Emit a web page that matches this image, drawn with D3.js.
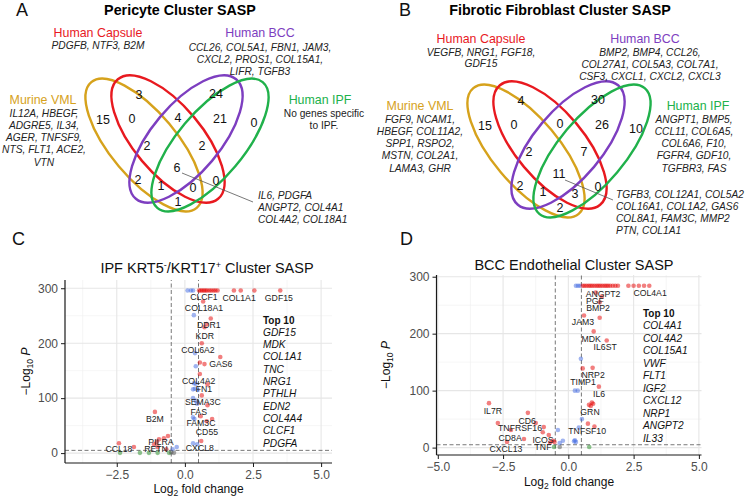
<!DOCTYPE html>
<html>
<head>
<meta charset="utf-8">
<script src="https://cdn.jsdelivr.net/npm/d3@7"></script>
<style>
  body { margin: 0; background: #fff; }
  text { font-family: "Liberation Sans", Arial, sans-serif; }
</style>
</head>
<body>
<svg id="fig" width="746" height="497"></svg>
<script>
// ---- Venn data: region order is fixed, see vennRegions ----
const vennRegions = ["VML", "Capsule", "BCC", "IPF", "VML+Capsule", "Capsule+BCC", "BCC+IPF",
  "VML+Capsule+BCC", "Capsule+BCC+IPF", "all", "VML+BCC", "VML+BCC+IPF", "VML+Capsule+IPF",
  "Capsule+IPF", "VML+IPF"];
const pericyteCounts = [15, 3, 24, 0, 0, 4, 21, 2, 2, 6, 2, 1, 0, 0, 1];
const fibroblastCounts = [15, 4, 30, 10, 0, 0, 26, 2, 7, 11, 2, 1, 3, 0, 2];
const setNames = ["Murine VML", "Human Capsule", "Human BCC", "Human IPF"];
const setColors = ["#d6a21c", "#e8191f", "#7d3ec0", "#20b14b"];

const pericyteVml = ["IL12A, HBEGF,", "ADGRE5, IL34,", "AGER, TNFSF9,", "NTS, FLT1, ACE2,", "VTN"];
const pericyteCapsule = ["PDGFB, NTF3, B2M"];
const pericyteBcc = ["CCL26, COL5A1, FBN1, JAM3,", "CXCL2, PROS1, COL15A1,", "LIFR, TGFB3"];
const pericyteIpf = ["No genes specific", "to IPF."];
const pericyteShared = ["IL6, PDGFA", "ANGPT2, COL4A1", "COL4A2, COL18A1"];

const fibroVml = ["FGF9, NCAM1,", "HBEGF, COL11A2,", "SPP1, RSPO2,", "MSTN, COL2A1,", "LAMA3, GHR"];
const fibroCapsule = ["VEGFB, NRG1, FGF18,", "GDF15"];
const fibroBcc = ["BMP2, BMP4, CCL26,", "COL27A1, COL5A3, COL7A1,", "CSF3, CXCL1, CXCL2, CXCL3"];
const fibroIpf = ["ANGPT1, BMP5,", "CCL11, COL6A5,", "COL6A6, F10,", "FGFR4, GDF10,", "TGFBR3, FAS"];
const fibroShared = ["TGFB3, COL12A1, COL5A2", "COL16A1, COL1A2, GAS6", "COL8A1, FAM3C, MMP2", "PTN, COL1A1"];

// ---- Volcano data: [log2FC, -log10 P, group]  r: P & FC, b: P only, g: FC only, n: NS ----
const ipfPoints = [
  [0.10, 296, "b"], [0.22, 296, "b"], [0.30, 296, "b"],
  [0.52, 296, "r"], [0.58, 296, "r"], [0.64, 296, "r"], [0.70, 296, "r"], [0.76, 296, "r"], [0.82, 296, "r"],
  [0.90, 296, "r"], [0.97, 296, "r"], [1.05, 296, "r"], [1.12, 296, "r"], [1.20, 296, "r"],
  [1.80, 296, "r"], [2.05, 296, "r"], [2.55, 296, "r"], [3.50, 296, "r"],
  [0.67, 276, "r"], [0.33, 251, "b"], [0.95, 245, "r"], [0.72, 229, "r"], [0.80, 235, "r"], [0.62, 200, "r"],
  [0.37, 182, "b"], [1.30, 175, "r"], [0.55, 165, "r"], [0.72, 162, "r"], [0.40, 158, "b"], [0.55, 144, "r"],
  [0.33, 127, "b"], [0.40, 126, "b"], [0.83, 125, "r"], [0.30, 116, "b"], [0.37, 117, "b"], [0.47, 115, "b"],
  [0.62, 105, "r"], [0.30, 100, "b"], [0.40, 95, "b"], [0.45, 90, "b"], [0.83, 87, "r"],
  [0.58, 67, "r"], [0.30, 65, "b"], [0.35, 62, "b"], [1.00, 62, "r"], [0.80, 58, "r"],
  [0.60, 22, "r"], [0.30, 18, "b"], [0.45, 16, "b"], [-0.30, 11, "b"], [-0.45, 7, "b"],
  [-1.10, 75, "r"], [-0.62, 31, "r"], [-0.77, 27, "r"], [-0.95, 25, "r"], [-1.03, 20, "r"], [-1.13, 16, "r"],
  [-1.00, 11, "r"], [-0.68, 7, "r"], [-2.42, 18, "r"], [-1.87, 11, "r"],
  [-2.38, 0.5, "g"], [-1.65, 0.5, "g"], [-1.32, 0.5, "g"], [-1.00, 0.5, "g"], [-0.58, 0.5, "g"],
  [-0.50, 1, "n"], [-0.40, 0.5, "n"]
];
const ipfLabels = [
  ["CLCF1", 0.70, 284], ["COL1A1", 1.99, 282], ["GDF15", 3.45, 282], ["COL18A1", 0.70, 265],
  ["DDR1", 0.88, 233], ["KDR", 0.73, 213], ["COL6A2", 0.48, 187], ["GAS6", 1.32, 162],
  ["COL4A2", 0.51, 131], ["FN1", 0.70, 116], ["SEMA3C", 0.66, 93], ["FAS", 0.51, 75],
  ["FAM3C", 0.59, 55], ["CD55", 0.81, 38], ["CXCL8", 0.55, 9], ["B2M", -1.10, 62],
  ["PILRA", -0.88, 20], ["RETN", -1.06, 7], ["CCL18", -2.42, 7]
];
const ipfTop10 = ["GDF15", "MDK", "COL1A1", "TNC", "NRG1", "PTHLH", "EDN2", "COL4A4", "CLCF1", "PDGFA"];

const bccPoints = [
  [0.29, 284, "b"], [0.37, 284, "b"], [0.45, 284, "b"],
  [0.55, 284, "r"], [0.62, 284, "r"], [0.70, 284, "r"], [0.78, 284, "r"], [0.85, 284, "r"], [0.92, 284, "r"],
  [1.00, 284, "r"], [1.08, 284, "r"], [1.15, 284, "r"], [1.22, 284, "r"], [1.30, 284, "r"], [1.38, 284, "r"],
  [1.45, 284, "r"], [1.52, 284, "r"], [1.60, 284, "r"], [1.70, 284, "r"], [1.80, 284, "r"], [1.90, 284, "r"],
  [2.30, 284, "r"], [2.50, 284, "r"], [2.70, 284, "r"], [2.90, 284, "r"], [3.10, 284, "r"],
  [1.05, 272, "r"], [1.28, 265, "r"], [1.20, 255, "r"], [0.60, 232, "r"], [1.20, 228, "r"], [0.97, 204, "r"],
  [1.47, 188, "r"], [0.48, 156, "b"], [0.55, 139, "r"], [0.93, 140, "r"], [1.17, 107, "r"],
  [0.25, 100, "b"], [0.36, 100, "b"], [0.90, 79, "r"], [0.79, 75, "r"], [0.86, 73, "r"], [0.95, 77, "r"],
  [0.52, 50, "b"], [0.75, 42, "r"], [1.00, 37, "r"], [0.40, 35, "b"],
  [0.25, 13, "b"], [0.29, 10, "b"], [0.22, 11, "b"], [0.80, 1, "g"],
  [-3.04, 78, "r"], [-1.55, 61, "r"], [-2.70, 43, "r"], [-2.20, 31, "r"], [-1.25, 43, "r"], [-0.94, 36, "r"],
  [-0.98, 27, "r"], [-0.75, 22, "r"], [-1.70, 15, "r"], [-2.35, 10, "r"], [-0.60, 12, "r"], [-0.53, 10, "r"],
  [-0.70, 9, "r"], [-0.40, 31, "b"], [-0.21, 12, "b"], [-0.33, 8, "b"], [-0.55, 1, "g"], [-0.33, 1, "n"]
];
const bccLabels = [
  ["COL4A1", 3.13, 272], ["ANGPT2", 1.33, 270], ["PGF", 1.02, 257], ["BMP2", 1.14, 245],
  ["JAM3", 0.56, 220], ["MDK", 0.87, 191], ["IL6ST", 1.41, 176], ["NRP2", 0.95, 128],
  ["TIMP1", 0.56, 116], ["IL6", 1.18, 95], ["GRN", 0.83, 63], ["TNFSF10", 0.72, 29],
  ["IL7R", -2.89, 64], ["CD6", -1.58, 47], ["TNFRSF16", -1.85, 35], ["CD8A", -2.23, 17],
  ["ICOS", -0.97, 14], ["TNF", -0.97, 1], ["CXCL13", -2.39, -2]
];
const bccTop10 = ["COL4A1", "COL4A2", "COL15A1", "VWF", "FLT1", "IGF2", "CXCL12", "NRP1", "ANGPT2", "IL33"];

const ipfXTicks = [-2.5, 0, 2.5, 5];
const bccXTicks = [-5, -2.5, 0, 2.5, 5];
const yTicks = [0, 100, 200, 300];
const fcCut = 0.5, pCut = 5;

const svg = d3.select("#fig");
const groupColor = { r: "#e50000", b: "#4169e1", g: "#228b22", n: "#4d4d4d" };

function multiLine(g, lines, x, y, step, anchor, italic, color, size) {
  lines.forEach((t, i) => {
    g.append("text")
      .attr("x", x).attr("y", y + i * step)
      .attr("dy", "0.35em")
      .attr("text-anchor", anchor)
      .attr("font-size", size)
      .attr("font-style", italic ? "italic" : "normal")
      .attr("fill", color)
      .text(t);
  });
}

// region label offsets from the venn centre (same 4-ellipse layout in both panels)
const regionPos = [[-74, -20], [-38, -45], [39, -46], [77, -17], [-45, -21], [1, -22], [43, -21],
  [-30, 6], [25, 6], [0, 28], [-39, 40], [-16, 46], [16, 48], [39, 41], [1, 62]];

function drawVenn(cx, cy, counts, leader) {
  const g = svg.append("g");
  const ell = [
    { dx: -33, dy: 5, a: 82, b: 33, rot: 50 },
    { dx: -9, dy: -1, a: 78, b: 34, rot: 50 },
    { dx: 9, dy: -1, a: 78, b: 34, rot: -50 },
    { dx: 33, dy: 5, a: 82, b: 33, rot: -50 }
  ];
  ell.forEach((e, i) => {
    g.append("ellipse")
      .attr("transform", `translate(${cx + e.dx},${cy + e.dy}) rotate(${e.rot})`)
      .attr("rx", e.a).attr("ry", e.b)
      .attr("fill", "none")
      .attr("stroke", setColors[i])
      .attr("stroke-width", 2.4);
  });
  counts.forEach((c, i) => {
    g.append("text")
      .attr("x", cx + regionPos[i][0]).attr("y", cy + regionPos[i][1])
      .attr("dy", "0.35em").attr("text-anchor", "middle")
      .attr("font-size", 12.5).attr("fill", "#111")
      .text(c);
  });
  g.append("line")
    .attr("x1", cx + leader[0]).attr("y1", cy + leader[1])
    .attr("x2", cx + leader[2]).attr("y2", cy + leader[3])
    .attr("stroke", "#555").attr("stroke-width", 0.8);
}

function panelLetter(x, y, t) {
  svg.append("text").attr("x", x).attr("y", y).attr("font-size", 18).attr("fill", "#111").text(t);
}

// ---- Panel A ----
panelLetter(16, 16, "A");
svg.append("text").attr("x", 180).attr("y", 15).attr("text-anchor", "middle")
  .attr("font-size", 14.3).attr("font-weight", "bold").text("Pericyte Cluster SASP");
drawVenn(177, 140, pericyteCounts, [5, 33, 76, 62]);
{
  const g = svg.append("g");
  multiLine(g, [setNames[1]], 98, 33, 12, "middle", false, setColors[1], 12.4);
  multiLine(g, pericyteCapsule, 98, 45, 12, "middle", true, "#222", 10.2);
  multiLine(g, [setNames[2]], 260, 33, 12, "middle", false, setColors[2], 12.4);
  multiLine(g, pericyteBcc, 260, 47, 12, "middle", true, "#222", 10.2);
  multiLine(g, [setNames[0]], 43, 100, 12, "middle", false, setColors[0], 12.4);
  multiLine(g, pericyteVml, 44, 113, 12.3, "middle", true, "#222", 10.2);
  multiLine(g, [setNames[3]], 320, 100, 12, "middle", false, setColors[3], 12.4);
  multiLine(g, pericyteIpf, 324, 113, 12.5, "middle", false, "#222", 10.2);
  multiLine(g, pericyteShared, 258, 195, 12.3, "start", true, "#222", 10.2);
}

// ---- Panel B ----
panelLetter(399, 16, "B");
svg.append("text").attr("x", 560).attr("y", 15).attr("text-anchor", "middle")
  .attr("font-size", 14.3).attr("font-weight", "bold").text("Fibrotic Fibroblast Cluster SASP");
drawVenn(559, 146, fibroblastCounts, [6, 34, 54, 54]);
{
  const g = svg.append("g");
  multiLine(g, [setNames[1]], 481, 39, 12, "middle", false, setColors[1], 12.4);
  multiLine(g, fibroCapsule, 481, 52, 11.8, "middle", true, "#222", 10.2);
  multiLine(g, [setNames[2]], 645, 39, 12, "middle", false, setColors[2], 12.4);
  multiLine(g, fibroBcc, 650, 52, 12, "middle", true, "#222", 10.2);
  multiLine(g, [setNames[0]], 420, 106, 12, "middle", false, setColors[0], 12.4);
  multiLine(g, fibroVml, 420, 119, 12.3, "middle", true, "#222", 10.2);
  multiLine(g, [setNames[3]], 698, 106, 12, "middle", false, setColors[3], 12.4);
  multiLine(g, fibroIpf, 694, 119, 12.3, "middle", true, "#222", 10.2);
  multiLine(g, fibroShared, 616, 194, 12.1, "start", true, "#222", 10.2);
}

// ---- Volcano plots ----
function drawVolcano(o) {
  const g = svg.append("g");
  const x = d3.scaleLinear().domain(o.xDomain).range(o.xRange);
  const y = d3.scaleLinear().domain(o.yDomain).range(o.yRange);
  const [x0, x1] = o.xRange, [y0, y1] = o.yRange; // y0 bottom, y1 top

  // grid: minor then major
  const xMinor = d3.range(o.xTicks[0] - 1.25, o.xDomain[1], 2.5).filter(v => v > o.xDomain[0]);
  const yMinor = [50, 150, 250];
  g.selectAll(".xmin").data(xMinor).enter().append("line")
    .attr("x1", d => x(d)).attr("x2", d => x(d)).attr("y1", y0).attr("y2", y1)
    .attr("stroke", "#f0f0f0").attr("stroke-width", 0.6);
  g.selectAll(".ymin").data(yMinor).enter().append("line")
    .attr("y1", d => y(d)).attr("y2", d => y(d)).attr("x1", x0).attr("x2", x1)
    .attr("stroke", "#f0f0f0").attr("stroke-width", 0.6);
  g.selectAll(".xmaj").data(o.xTicks).enter().append("line")
    .attr("x1", d => x(d)).attr("x2", d => x(d)).attr("y1", y0).attr("y2", y1)
    .attr("stroke", "#e6e6e6").attr("stroke-width", 1.1);
  g.selectAll(".ymaj").data(yTicks).enter().append("line")
    .attr("y1", d => y(d)).attr("y2", d => y(d)).attr("x1", x0).attr("x2", x1)
    .attr("stroke", "#e6e6e6").attr("stroke-width", 1.1);

  // cutoff lines
  [-fcCut, fcCut].forEach(v => {
    g.append("line").attr("x1", x(v)).attr("x2", x(v)).attr("y1", y0).attr("y2", y1)
      .attr("stroke", "#555").attr("stroke-width", 0.8).attr("stroke-dasharray", "4,2.5");
  });
  g.append("line").attr("x1", x0).attr("x2", x1).attr("y1", y(pCut)).attr("y2", y(pCut))
    .attr("stroke", "#555").attr("stroke-width", 0.8).attr("stroke-dasharray", "4,2.5");

  // points
  g.selectAll(".pt").data(o.points).enter().append("circle")
    .attr("cx", d => x(d[0])).attr("cy", d => y(d[1]))
    .attr("r", 2.3)
    .attr("fill", d => groupColor[d[2]])
    .attr("fill-opacity", 0.5);

  // gene labels
  g.selectAll(".lab").data(o.labels).enter().append("text")
    .attr("x", d => x(d[1])).attr("y", d => y(d[2]))
    .attr("dy", "0.35em").attr("text-anchor", "middle")
    .attr("font-size", 8.7).attr("fill", "#222")
    .text(d => d[0]);

  // axes
  const fmt = d3.format(".1f");
  const xa = g.append("g").attr("transform", `translate(0,${y0})`)
    .call(d3.axisBottom(x).tickValues(o.xTicks).tickFormat(fmt).tickSizeOuter(0).tickSize(4).tickPadding(3));
  const ya = g.append("g").attr("transform", `translate(${x0},0)`)
    .call(d3.axisLeft(y).tickValues(yTicks).tickFormat(d3.format("d")).tickSizeOuter(0).tickSize(4).tickPadding(3));
  [xa, ya].forEach(a => {
    a.select(".domain").attr("stroke", "#1a1a1a").attr("stroke-width", 1.2);
    a.selectAll(".tick line").attr("stroke", "#1a1a1a").attr("stroke-width", 1);
    a.selectAll(".tick text").attr("fill", "#4d4d4d").attr("font-size", 12)
      .attr("font-family", "Liberation Sans, Arial, sans-serif");
  });
  // x extends full panel width
  xa.select(".domain").attr("d", `M${x0},0H${x1}`);
  ya.select(".domain").attr("d", `M0,${y0}V${y1}`);

  // axis titles
  const xt = g.append("text").attr("x", (x0 + x1) / 2).attr("y", o.xTitleY)
    .attr("text-anchor", "middle").attr("font-size", 12).attr("fill", "#111");
  xt.append("tspan").text("Log");
  xt.append("tspan").attr("font-size", 8.5).attr("dy", 3).text("2");
  xt.append("tspan").attr("dy", -3).text(" fold change");

  const yt = g.append("text")
    .attr("transform", `translate(${o.yTitleX},${(y0 + y1) / 2}) rotate(-90)`)
    .attr("text-anchor", "middle").attr("font-size", 12).attr("fill", "#111");
  yt.append("tspan").text("\u2212Log");
  yt.append("tspan").attr("font-size", 8.5).attr("dy", 3).text("10");
  yt.append("tspan").attr("dy", -3).attr("font-style", "italic").text(" P");

  // title
  o.title(g.append("text").attr("x", o.titleX).attr("y", o.titleY)
    .attr("text-anchor", "middle").attr("font-size", 14.5).attr("fill", "#111"));

  // top 10 list
  g.append("text").attr("x", o.topX).attr("y", o.topY).attr("dy", "0.35em")
    .attr("font-size", 10).attr("font-weight", "bold").attr("fill", "#111").text("Top 10");
  multiLine(g, o.top10, o.topX, o.topY + o.topStep, o.topStep, "start", true, "#111", 10.2);
}

panelLetter(12, 245, "C");
drawVolcano({
  xDomain: [-4.4, 5.4], xRange: [65, 332],
  yDomain: [-18, 315], yRange: [463, 280],
  xTicks: ipfXTicks, points: ipfPoints, labels: ipfLabels, top10: ipfTop10,
  xTitleY: 493, yTitleX: 30,
  titleX: 207, titleY: 273,
  title: t => {
    t.append("tspan").text("IPF KRT5");
    t.append("tspan").attr("font-size", 9).attr("dy", -5).text("-");
    t.append("tspan").attr("dy", 5).text("/KRT17");
    t.append("tspan").attr("font-size", 9).attr("dy", -5).text("+");
    t.append("tspan").attr("dy", 5).text(" Cluster SASP");
  },
  topX: 263, topY: 320, topStep: 12.3
});

panelLetter(400, 245, "D");
drawVolcano({
  xDomain: [-5.05, 5.1], xRange: [436.5, 701.5],
  yDomain: [-13, 303], yRange: [455, 275],
  xTicks: bccXTicks, points: bccPoints, labels: bccLabels, top10: bccTop10,
  xTitleY: 486, yTitleX: 390,
  titleX: 574, titleY: 270,
  title: t => t.text("BCC Endothelial Cluster SASP"),
  topX: 643, topY: 313, topStep: 12.5
});
</script>
</body>
</html>
